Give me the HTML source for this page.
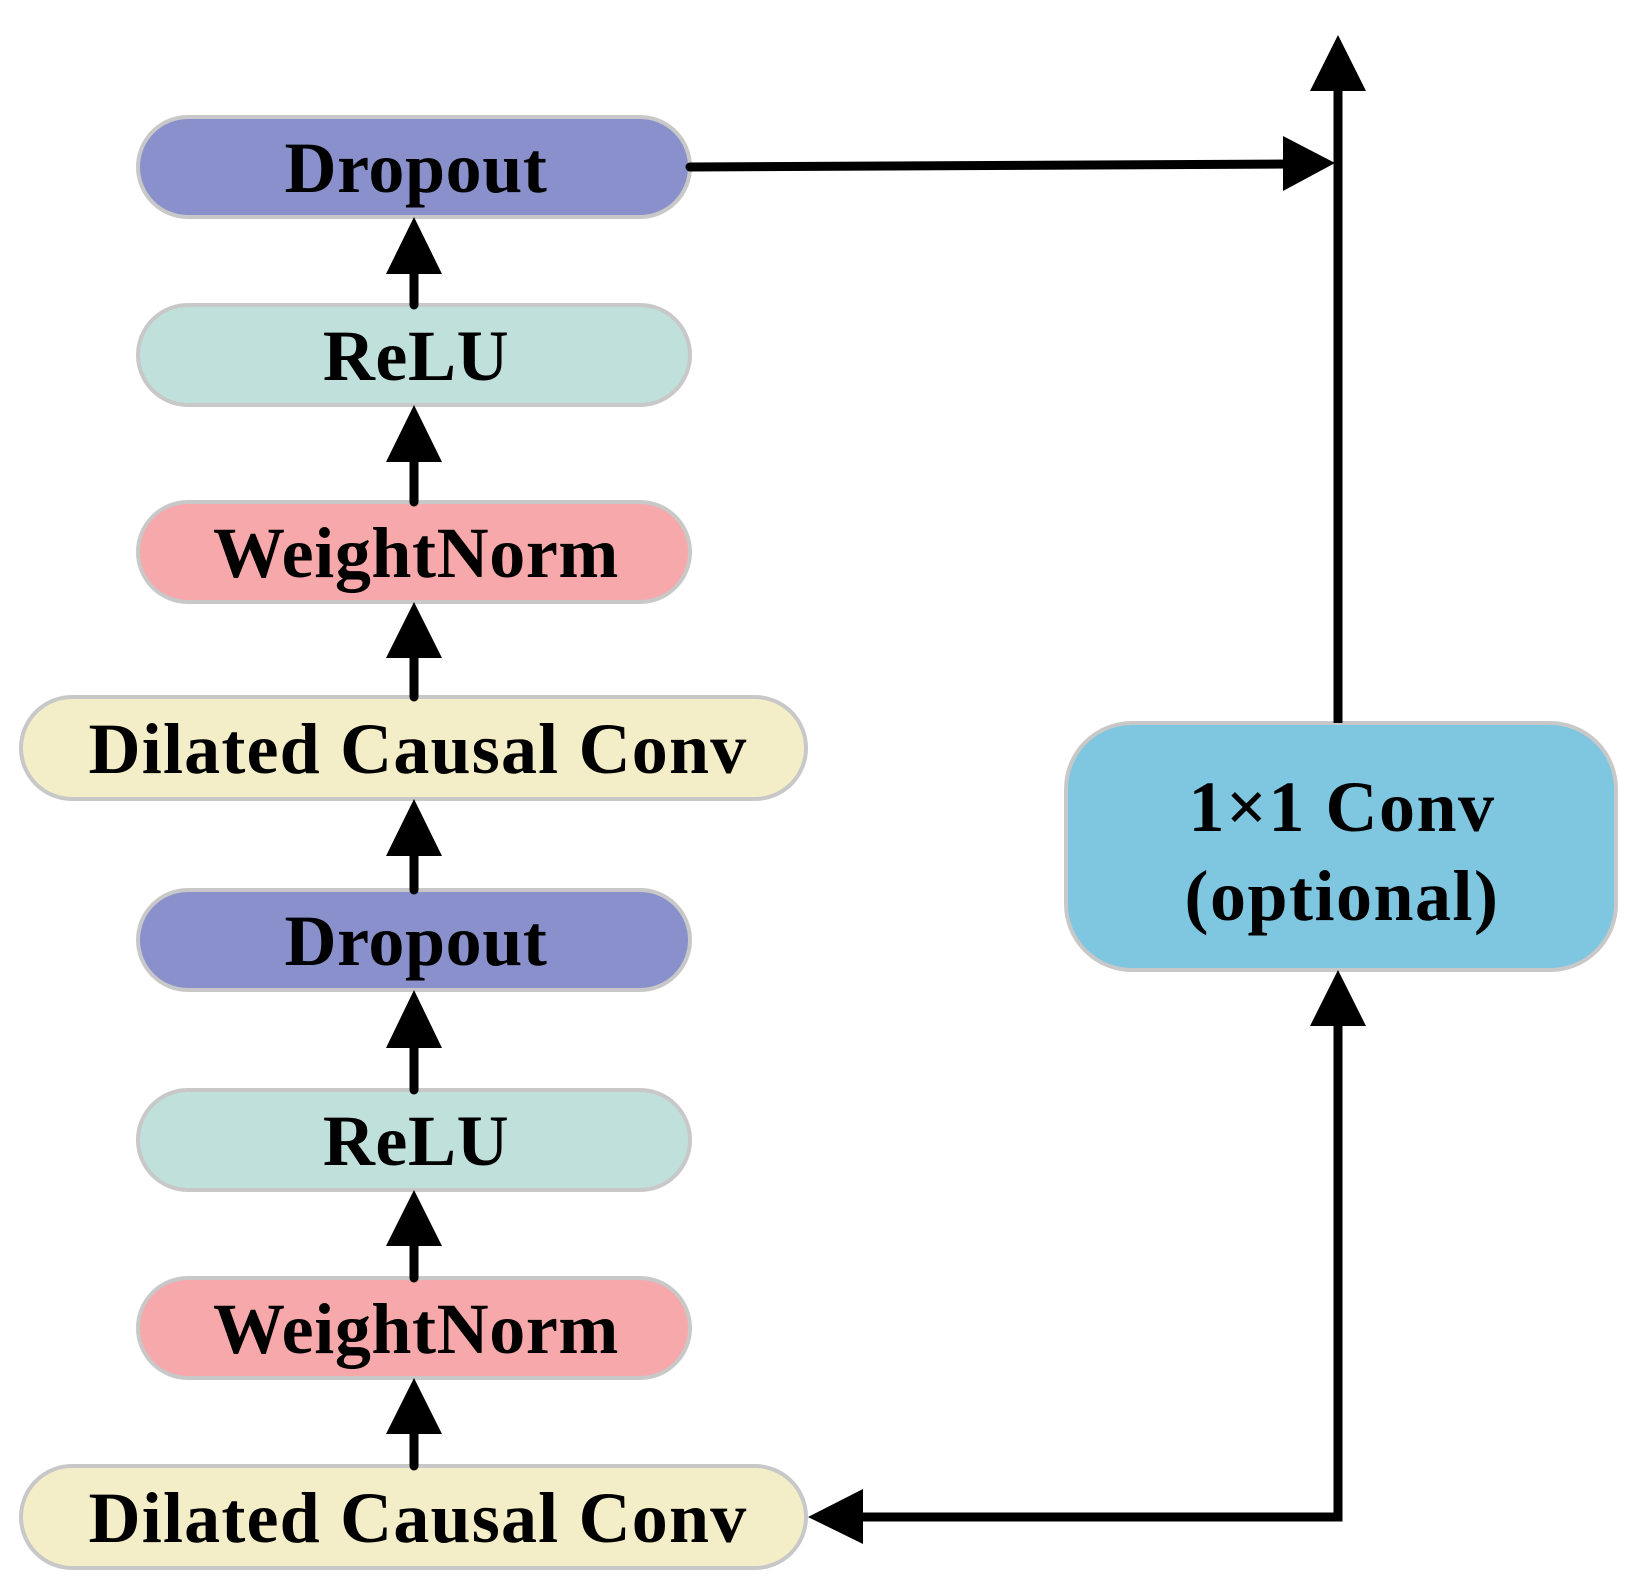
<!DOCTYPE html>
<html><head><meta charset="utf-8"><style>
html,body{margin:0;padding:0;background:#fff;}
svg{display:block;}
text{font-family:"Liberation Serif",serif;font-weight:bold;font-size:72px;fill:#000;text-anchor:middle;letter-spacing:0.6px;}
</style></head><body>
<svg width="1638" height="1594" viewBox="0 0 1638 1594" xmlns="http://www.w3.org/2000/svg">
<g stroke="#c8c8c8" stroke-width="4">
<rect x="138" y="117" width="552" height="100" rx="50" fill="#8990cb"/>
<rect x="138" y="305" width="552" height="100" rx="50" fill="#c0e0db"/>
<rect x="138" y="502" width="552" height="100" rx="50" fill="#f6a8aa"/>
<rect x="21" y="697" width="785" height="102" rx="51" fill="#f3eec7"/>
<rect x="138" y="890" width="552" height="100" rx="50" fill="#8990cb"/>
<rect x="138" y="1090" width="552" height="100" rx="50" fill="#c0e0db"/>
<rect x="138" y="1278" width="552" height="100" rx="50" fill="#f6a8aa"/>
<rect x="21" y="1466" width="785" height="102" rx="51" fill="#f3eec7"/>
<rect x="1066" y="723" width="550" height="247" rx="66" fill="#7fc6e0"/>
</g>
<text x="416" y="192">Dropout</text>
<text x="416" y="380">ReLU</text>
<text x="416" y="577">WeightNorm</text>
<text x="418" y="773" style="letter-spacing:1.2px">Dilated Causal Conv</text>
<text x="416" y="965">Dropout</text>
<text x="416" y="1165">ReLU</text>
<text x="416" y="1353">WeightNorm</text>
<text x="418" y="1542" style="letter-spacing:1.2px">Dilated Causal Conv</text>
<text x="1342" y="831" style="letter-spacing:1.5px">1×1 Conv</text>
<text x="1342" y="920" style="letter-spacing:1.5px">(optional)</text>
<g stroke="#000" stroke-width="9" fill="none" stroke-linecap="round">
<line x1="414" y1="270" x2="414" y2="305"/>
<line x1="414" y1="458" x2="414" y2="502"/>
<line x1="414" y1="654" x2="414" y2="697"/>
<line x1="414" y1="852" x2="414" y2="890"/>
<line x1="414" y1="1045" x2="414" y2="1090"/>
<line x1="414" y1="1243" x2="414" y2="1278"/>
<line x1="414" y1="1430" x2="414" y2="1466"/>
<line x1="690" y1="167" x2="1290" y2="164"/>
<polyline points="1338,88 1338,723" stroke-linecap="butt"/>
<polyline points="860,1517 1338,1517 1338,1020" stroke-linejoin="miter" stroke-linecap="butt"/>
</g>
<g fill="#000">
<polygon points="414,217 386,274 442,274"/>
<polygon points="414,405 386,462 442,462"/>
<polygon points="414,602 386,658 442,658"/>
<polygon points="414,799 386,856 442,856"/>
<polygon points="414,990 386,1048 442,1048"/>
<polygon points="414,1190 386,1246 442,1246"/>
<polygon points="414,1378 386,1434 442,1434"/>
<polygon points="1338,35 1310,91 1366,91"/>
<polygon points="1335,163 1283,136 1283,191"/>
<polygon points="1338,970 1310,1026 1366,1026"/>
<polygon points="808,1517 863,1489 863,1544"/>
</g>
</svg>
</body></html>
